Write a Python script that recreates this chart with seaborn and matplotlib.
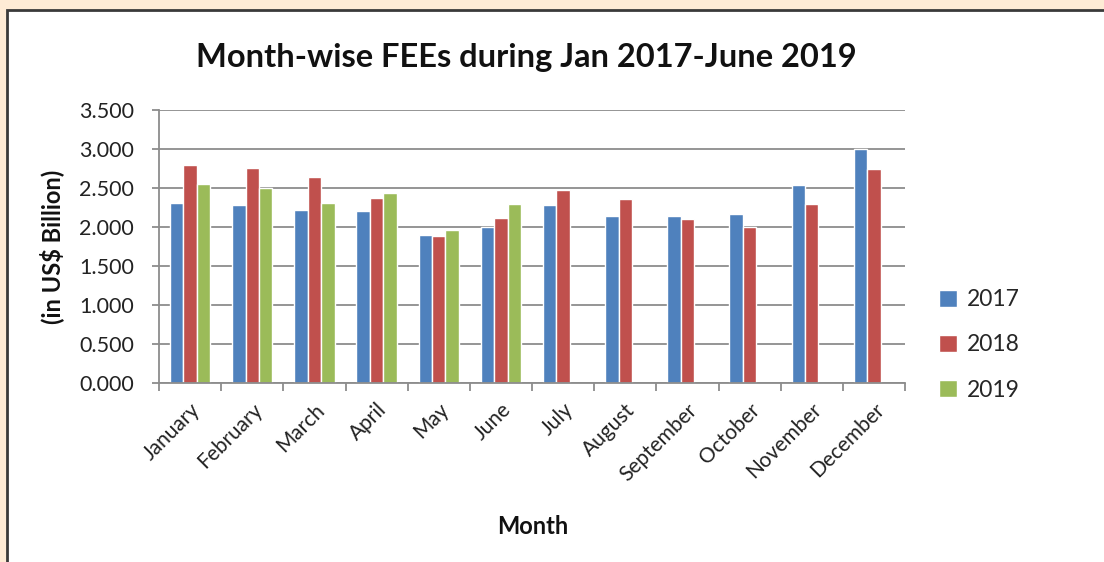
import matplotlib
matplotlib.use("Agg")
import matplotlib.pyplot as plt
import seaborn as sns
import pandas as pd
import numpy as np
from matplotlib.patches import Rectangle

months = ["January", "February", "March", "April", "May", "June",
          "July", "August", "September", "October", "November", "December"]
fees_2017 = [2.31, 2.28, 2.22, 2.20, 1.90, 2.00, 2.28, 2.14, 2.14, 2.17, 2.54, 3.00]
fees_2018 = [2.79, 2.76, 2.64, 2.37, 1.88, 2.12, 2.47, 2.36, 2.10, 2.00, 2.29, 2.75]
fees_2019 = [2.55, 2.50, 2.31, 2.44, 1.96, 2.29, None, None, None, None, None, None]
years = ["2017", "2018", "2019"]
y_ticks = [0.0, 0.5, 1.0, 1.5, 2.0, 2.5, 3.0, 3.5]

rows = []
for yr, vals in zip(years, [fees_2017, fees_2018, fees_2019]):
    for m, v in zip(months, vals):
        rows.append({"Month": m, "Year": yr, "Value": np.nan if v is None else v})
df = pd.DataFrame(rows)

sns.set_theme(style="white")
plt.rcParams["font.family"] = ["Lato", "DejaVu Sans"]

fig = plt.figure(figsize=(11.04, 5.62), dpi=100)
fig.patch.set_facecolor("#FEEBD5")
bg = Rectangle((7 / 1104, -0.05), 1.1, 1 - 10 / 562 + 0.05,
               transform=fig.transFigure, facecolor="white",
               edgecolor="#3a3a3a", linewidth=2, zorder=-5)
fig.patches.append(bg)

ax = fig.add_axes([159 / 1104, 1 - 383 / 562, (905 - 159) / 1104, (383 - 110) / 562])
ax.set_zorder(2)
ax.set_facecolor("white")
palette = {"2017": "#4F81BD", "2018": "#C0504D", "2019": "#9BBB59"}
sns.barplot(data=df, x="Month", y="Value", hue="Year", order=months,
            hue_order=years, palette=palette, width=0.65, saturation=1,
            ax=ax, errorbar=None, legend=True)

ax.set_xlim(-0.5, 11.5)
ax.set_ylim(0, 3.5)
ax.set_yticks(y_ticks)
ax.set_yticklabels([f"{t:.3f}" for t in y_ticks], fontsize=15.5, color="#222222")
ax.yaxis.grid(True, color="#8c8c8c", linewidth=1.3)
ax.set_axisbelow(True)
for s in ["top", "right"]:
    ax.spines[s].set_visible(False)
for s in ["left", "bottom"]:
    ax.spines[s].set_color("#8c8c8c")
    ax.spines[s].set_linewidth(1.3)
ax.tick_params(axis="y", which="major", length=5, width=1.3, color="#8c8c8c",
               direction="out", pad=13, left=True)

ax.set_xticks(range(len(months)))
ax.set_xticklabels(months, rotation=45, ha="right", rotation_mode="anchor",
                   fontsize=15, color="#222222")
ax.set_xticks(np.arange(-0.5, 12.0, 1.0), minor=True)
ax.tick_params(axis="x", which="major", length=0, pad=12)
ax.tick_params(axis="x", which="minor", length=6, width=1.3, color="#8c8c8c",
               direction="out", bottom=True)

ax.set_xlabel("")
ax.set_ylabel("")
fig.text(533 / 1104, 1 - 527 / 562, "Month", ha="center", va="center",
         fontsize=17, fontweight="bold", color="#111111")
fig.text(52 / 1104, 1 - 247 / 562, "(in US$ Billion)", ha="center", va="center",
         rotation=90, fontsize=17, fontweight="bold", color="#111111")
fig.text(526 / 1104, 1 - 58 / 562, "Month-wise FEEs during Jan 2017-June 2019",
         ha="center", va="center", fontsize=23.5, fontweight="bold", color="#111111")

handles, labels = ax.get_legend_handles_labels()
ax.legend_.remove()
fig.legend(handles, labels, loc="center left",
           bbox_to_anchor=(918 / 1104, 1 - 345 / 562), frameon=False,
           fontsize=16.5, handlelength=0.8, handleheight=0.8,
           labelspacing=1.05, handletextpad=0.45)

fig.savefig("out.png", dpi=100, facecolor=fig.get_facecolor())
